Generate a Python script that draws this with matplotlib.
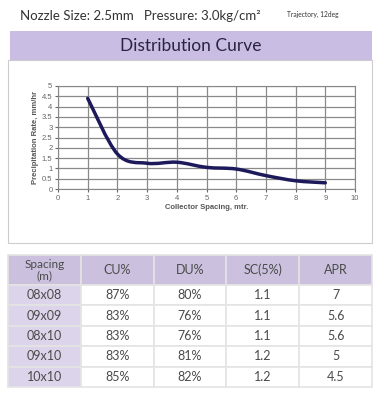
import numpy as np
import matplotlib.pyplot as plt
from matplotlib.path import Path
from matplotlib.patches import PathPatch, Rectangle

# chart data
spacing_m = [1, 2, 3, 4, 5, 6, 7, 8, 9]
precip_rate = [4.4, 1.7, 1.25, 1.3, 1.05, 0.97, 0.65, 0.4, 0.3]

# table data
col_labels = ['Spacing\n(m)', 'CU%', 'DU%', 'SC(5%)', 'APR']
row_spacing = ['08x08', '09x09', '08x10', '09x10', '10x10']
cu = ['87%', '83%', '83%', '83%', '85%']
du = ['80%', '76%', '76%', '81%', '82%']
sc = ['1.1', '1.1', '1.1', '1.2', '1.2']
apr = ['7', '5.6', '5.6', '5', '4.5']

W, H = 383, 393
fig = plt.figure(figsize=(W / 100, H / 100), dpi=100)


def box(x0, y0, x1, y1):
    # pixel box (top-left origin) -> figure fraction rect
    return [x0 / W, 1 - y1 / H, (x1 - x0) / W, (y1 - y0) / H]


font_txt = ['Lato', 'DejaVu Sans']

# header texts
fig.text(20 / W, 1 - 16 / H, 'Nozzle Size: 2.5mm   Pressure: 3.0kg/cm²',
         fontsize=9.5, color='#333333', family=font_txt, va='center')
fig.text(287 / W, 1 - 14 / H, 'Trajectory, 12deg', fontsize=4.8,
         color='#333333', family=font_txt, va='center')

# banner
fig.patches.append(Rectangle((10 / W, 1 - 60 / H), 362 / W, 29 / H,
                             transform=fig.transFigure, facecolor='#c9bde3',
                             edgecolor='none'))
fig.text(191 / W, 1 - 46 / H, 'Distribution Curve', fontsize=12.5,
         color='#2a2440', family=font_txt, ha='center', va='center')

# chart frame
fig.patches.append(Rectangle((8 / W, 1 - 243 / H), 364 / W, 183 / H,
                             transform=fig.transFigure, facecolor='none',
                             edgecolor='#cccccc', lw=0.8))

ax = fig.add_axes(box(58, 86, 355, 189))
ax.set_xlim(0, 10)
ax.set_ylim(0, 5)
ax.set_xticks(range(0, 11))
yt = np.arange(0, 5.01, 0.5)
ax.set_yticks(yt)
ax.set_yticklabels([('%g' % v) for v in yt])
ax.grid(True, color='#8a8a8a', lw=0.9)
ax.set_axisbelow(True)
for s in ax.spines.values():
    s.set_color('#888888')
    s.set_linewidth(0.8)
ax.tick_params(labelsize=5.5, colors='#666666', length=2, pad=2)
ax.set_xlabel('Collector Spacing, mtr.', fontsize=5.5, fontweight='bold',
              color='#555555', family='Liberation Sans', labelpad=2)
ax.set_ylabel('Precipitation Rate, mm/hr', fontsize=5.5, fontweight='bold',
              color='#555555', family='Liberation Sans', labelpad=2)
for lab in ax.get_xticklabels() + ax.get_yticklabels():
    lab.set_family('Liberation Sans')

# smoothed line like a spreadsheet "smooth line" (Catmull-Rom as Bezier)
px = np.array(spacing_m, float)
py = np.array(precip_rate, float)
verts = [(px[0], py[0])]
codes = [Path.MOVETO]
n = len(px)
for i in range(n - 1):
    p0 = np.array([px[max(i - 1, 0)], py[max(i - 1, 0)]])
    p1 = np.array([px[i], py[i]])
    p2 = np.array([px[i + 1], py[i + 1]])
    p3 = np.array([px[min(i + 2, n - 1)], py[min(i + 2, n - 1)]])
    c1 = p1 + (p2 - p0) / 6
    c2 = p2 - (p3 - p1) / 6
    verts += [tuple(c1), tuple(c2), tuple(p2)]
    codes += [Path.CURVE4] * 3
ax.add_patch(PathPatch(Path(verts, codes), facecolor='none',
                       edgecolor='#1c1a5a', lw=2.5, capstyle='round'))

# table
tax = fig.add_axes(box(8, 255, 372, 387))
tax.axis('off')
cells = [list(r) for r in zip(row_spacing, cu, du, sc, apr)]
colours = [['#dcd4ea'] + ['white'] * 4 for _ in cells]
tbl = tax.table(cellText=cells, colLabels=col_labels, cellColours=colours,
                colColours=['#cbc1de'] * 5, cellLoc='center', bbox=[0, 0, 1, 1])
tbl.auto_set_font_size(False)
hdr_h = 30 / 132
body_h = (1 - hdr_h) / len(cells)
for (r, c), cell in tbl.get_celld().items():
    cell.set_edgecolor('#e4e4e4')
    cell.set_linewidth(1.2)
    cell.set_height(hdr_h if r == 0 else body_h)
    t = cell.get_text()
    t.set_fontsize(9)
    t.set_family(font_txt)
    t.set_color('#4a4a4a')
    if r == 0:
        t.set_linespacing(1.0)
        if c == 0:
            t.set_fontsize(8.5)

fig.savefig('out.png', dpi=100)
